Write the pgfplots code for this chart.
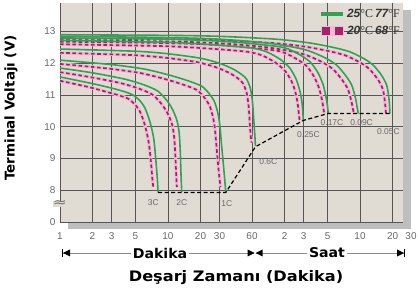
\documentclass[border=0pt]{standalone}
\usepackage{pgfplots}
\usepackage{pgfplotstable}
\pgfplotsset{compat=1.18}
\usepackage{fontspec}
\setmainfont{Liberation Sans}
\newfontfamily\dv{DejaVu Sans}
\newfontfamily\lserif{Liberation Serif}
\definecolor{bgc}{RGB}{224,220,212}
\definecolor{gridc}{RGB}{85,85,85}
\definecolor{gr}{RGB}{52,160,84}
\definecolor{mag}{RGB}{160,36,104}
\definecolor{pinkc}{RGB}{244,184,214}
\definecolor{shadowc}{RGB}{190,190,190}
\definecolor{tickc}{RGB}{105,105,105}

% ---- 25 C (green) ----
\pgfplotstableread{
x y
1 11.57
2 11.36
3 11.22
4 11.10
4.75 11.00
5.5 10.82
6.1 10.60
6.6 10.30
7.0 10.00
7.4 9.60
7.7 9.00
7.95 8.40
8.1 7.93
}\gthree
\pgfplotstableread{
x y
1 11.85
2 11.70
4 11.50
6 11.32
8 11.13
9.7 10.84
11 10.55
12.1 10.20
12.7 9.80
13.0 9.20
13.2 8.50
13.4 7.95
}\gtwo
\pgfplotstableread{
x y
1 12.10
3 11.96
6 11.82
10 11.64
15 11.46
20.5 11.28
24 11.05
27 10.78
29 10.42
30.2 10.05
31.2 9.50
32.6 8.80
34.3 7.95
}\gone
\pgfplotstableread{
x y
1 12.45
5 12.38
10 12.30
20 12.16
30 12.00
40 11.82
48 11.65
53.5 11.50
58 11.20
60.5 10.80
62 10.30
63.5 9.80
64.5 9.40
}\gsix
\pgfplotstableread{
x y
1 12.72
10 12.66
30 12.57
60 12.48
82 12.36
110 12.12
135 11.84
155 11.47
167 11.10
173 10.84
177 10.50
179 10.20
}\gqa
\pgfplotstableread{
x y
1 12.80
10 12.76
30 12.70
60 12.62
117 12.50
160 12.30
206 12.05
245 11.70
274 11.31
292 10.90
301 10.60
305 10.42
}\gqb
\pgfplotstableread{
x y
1 12.85
10 12.81
30 12.76
82 12.64
150 12.50
206 12.38
290 12.16
365 11.94
440 11.62
503 11.31
545 10.90
565 10.60
578 10.42
}\gqc
\pgfplotstableread{
x y
1 12.90
10 12.88
30 12.85
100 12.76
206 12.64
350 12.49
484 12.36
650 12.15
796 11.94
950 11.62
1059 11.31
1110 10.90
1128 10.60
1136 10.42
}\gqd

% ---- 20 C (dashed) ----
\pgfplotstableread{
x y
1 11.45
1.8 11.26
2.7 11.10
3.6 10.98
4.3 10.88
4.95 10.70
5.5 10.48
5.95 10.18
6.3 9.88
6.65 9.48
6.95 8.90
7.15 8.40
7.3 8.10
}\dthree
\pgfplotstableread{
x y
1 11.72
1.8 11.58
3.6 11.38
5.4 11.20
7.2 11.01
8.7 10.72
9.9 10.43
10.9 10.08
11.4 9.68
11.7 9.10
11.9 8.50
12.1 8.10
}\dtwo
\pgfplotstableread{
x y
1 11.98
2.7 11.84
5.4 11.70
9 11.52
13.5 11.34
18.5 11.16
21.6 10.93
24.3 10.66
26.1 10.30
27.2 9.93
28.1 9.40
29.3 8.70
30.6 8.10
}\done
\pgfplotstableread{
x y
1 12.33
4.6 12.26
9.2 12.18
18.4 12.04
27.6 11.88
36.8 11.70
44.2 11.53
49.2 11.38
53.4 11.08
55.7 10.68
57 10.18
58.4 9.70
59.3 9.50
}\dsix
\pgfplotstableread{
x y
1 12.60
9.2 12.54
27.6 12.45
55.2 12.36
75.4 12.24
101 12.00
124 11.72
143 11.35
154 10.98
159 10.72
163 10.40
165 10.22
}\dqa
\pgfplotstableread{
x y
1 12.68
9.2 12.64
27.6 12.58
55.2 12.50
108 12.38
147 12.18
190 11.93
225 11.58
252 11.19
269 10.78
277 10.50
281 10.42
}\dqb
\pgfplotstableread{
x y
1 12.73
9.2 12.69
27.6 12.64
75.4 12.52
138 12.38
190 12.26
267 12.04
336 11.82
405 11.50
463 11.19
501 10.78
520 10.50
530 10.42
}\dqc
\pgfplotstableread{
x y
1 12.78
9.2 12.76
27.6 12.73
92 12.64
190 12.52
322 12.37
445 12.24
598 12.03
732 11.82
874 11.50
974 11.19
1021 10.78
1038 10.50
1045 10.42
}\dqd

% ---- cut-off line ----
\pgfplotstableread{
x y
8.1 7.93
34.3 7.93
64.5 9.37
179 10.20
305 10.42
1136 10.42
}\cutoff

\begin{document}
\begin{tikzpicture}
% shadow of the plot area
\fill[shadowc] (68bp,65bp) rectangle (411bp,72bp);
\fill[shadowc] (403bp,65bp) rectangle (411bp,284bp);
\begin{axis}[
  at={(60bp,72bp)}, anchor=south west,
  scale only axis, width=343bp, height=219bp,
  xmode=log, xmin=1, xmax=1500, ymin=7, ymax=13.9,
  clip=false,
  axis background/.style={fill=bgc},
  axis line style={draw=none},
  xtick={1,2,3,5,10,20,30,60,120,180,300,600,1200},
  xticklabels={1,2,3,5,10,20,30,60,2,3,5,10,20},
  ytick={7,8,9,10,11,12,13},
  yticklabels={0,8,9,10,11,12,13},
  major tick length=0pt,
  grid=major,
  major grid style={gridc, line width=0.75bp},
  tick label style={font=\fontsize{10}{12}\selectfont, text=tickc},
  xticklabel style={yshift=-7bp},
  yticklabel style={xshift=-1bp},
  legend style={at={(rel axis cs:1,1)}, anchor=north east, xshift=0bp, yshift=-3bp,
    draw=none, fill=none, font=\fontsize{12}{14}\selectfont, text=black!80,
    row sep=3bp, inner sep=1bp},
  legend cell align=left,
  halo/.style={pinkc, line width=3.4bp, smooth, tension=0.45, forget plot},
  dsh/.style={mag, line width=1.7bp, dash pattern=on 3.6bp off 2.6bp, smooth, tension=0.45, forget plot},
  grn/.style={gr, line width=1.6bp, smooth, tension=0.45, forget plot},
]
\addlegendimage{legend image code/.code={\draw[gr, line width=4bp] (-2bp,0bp) -- (20bp,0bp);}}
\addlegendentry{{\bfseries\itshape 25}{\lserif °C}\,{\bfseries\itshape 77}{\lserif °F}}
\addlegendimage{legend image code/.code={\fill[pinkc] (-2bp,-4.5bp) rectangle (20bp,4.5bp);
  \fill[mag] (-1bp,-3.5bp) rectangle (6bp,3.5bp); \fill[mag] (12bp,-3.5bp) rectangle (19bp,3.5bp);}}
\addlegendentry{{\bfseries\itshape 20}{\lserif °C}\,{\bfseries\itshape 68}{\lserif °F}}

% halos
\addplot[halo] table {\dthree};
\addplot[halo] table {\dtwo};
\addplot[halo] table {\done};
\addplot[halo] table {\dsix};
\addplot[halo] table {\dqa};
\addplot[halo] table {\dqb};
\addplot[halo] table {\dqc};
\addplot[halo] table {\dqd};
% dashed 20C
\addplot[dsh] table {\dthree};
\addplot[dsh] table {\dtwo};
\addplot[dsh] table {\done};
\addplot[dsh] table {\dsix};
\addplot[dsh] table {\dqa};
\addplot[dsh] table {\dqb};
\addplot[dsh] table {\dqc};
\addplot[dsh] table {\dqd};
% green 25C
\addplot[grn] table {\gthree};
\addplot[grn] table {\gtwo};
\addplot[grn] table {\gone};
\addplot[grn] table {\gsix};
\addplot[grn] table {\gqa};
\addplot[grn] table {\gqb};
\addplot[grn] table {\gqc};
\addplot[grn] table {\gqd};
% cut-off
\addplot[black, line width=1.2bp, dash pattern=on 4bp off 2.5bp, forget plot] table {\cutoff};

% curve labels
\begin{scope}[every node/.style={font=\fontsize{8.5}{10}\selectfont, text=tickc, inner sep=1bp}]
\node at (axis cs:7.3,7.62) {3C};
\node at (axis cs:13.4,7.62) {2C};
\node at (axis cs:35,7.58) {1C};
\node at (axis cs:85,8.90) {0.6C};
\node at (axis cs:200,9.76) {0.25C};
\node at (axis cs:330,10.12) {0.17C};
\node at (axis cs:620,10.12) {0.09C};
\node at (axis cs:1100,9.84) {0.05C};
\end{scope}
% axis break mark and extra tick label
\node[fill=bgc, text=tickc, inner sep=0bp, xscale=1.4, font=\dv\fontsize{12}{12}\selectfont] at (axis cs:1,7.58) {≈};
\node[anchor=north, font=\fontsize{10}{12}\selectfont, text=tickc, inner sep=0bp] at (axis cs:1500,7) [xshift=8bp, yshift=-10.3bp] {30};
\end{axis}

% Dakika / Saat arrows
\draw[black!45, line width=0.8bp] (62bp,41bp) -- (254bp,41bp);
\draw[black!45, line width=0.8bp] (256bp,41bp) -- (405bp,41bp);
\fill[black] (62bp,37bp) rectangle (63.3bp,45bp);
\fill[black] (63bp,41bp) -- (70bp,44.5bp) -- (70bp,37.5bp) -- cycle;
\fill[black] (254.5bp,41bp) -- (247.5bp,44.5bp) -- (247.5bp,37.5bp) -- cycle;
\fill[black] (255.5bp,41bp) -- (262.5bp,44.5bp) -- (262.5bp,37.5bp) -- cycle;
\fill[black] (404bp,41bp) -- (397bp,44.5bp) -- (397bp,37.5bp) -- cycle;
\fill[black] (404bp,37bp) rectangle (405.3bp,45bp);
\node[fill=white, inner sep=2bp, xscale=1.05, font=\dv\bfseries\fontsize{13.5}{15}\selectfont] at (160bp,41bp) {Dakika};
\node[fill=white, inner sep=2bp, xscale=1.05, font=\dv\bfseries\fontsize{13.5}{15}\selectfont] at (327bp,41bp) {Saat};
\node[xscale=1.12, font=\dv\bfseries\fontsize{14.5}{16}\selectfont] at (236bp,16bp) {Deşarj Zamanı (Dakika)};
\node[rotate=90, font=\dv\bfseries\fontsize{13.5}{15}\selectfont] at (11bp,186bp) {Terminal Voltajı (V)};

\pgfresetboundingbox
\path[use as bounding box] (0bp,0bp) rectangle (418bp,294bp);
\end{tikzpicture}
\end{document}
